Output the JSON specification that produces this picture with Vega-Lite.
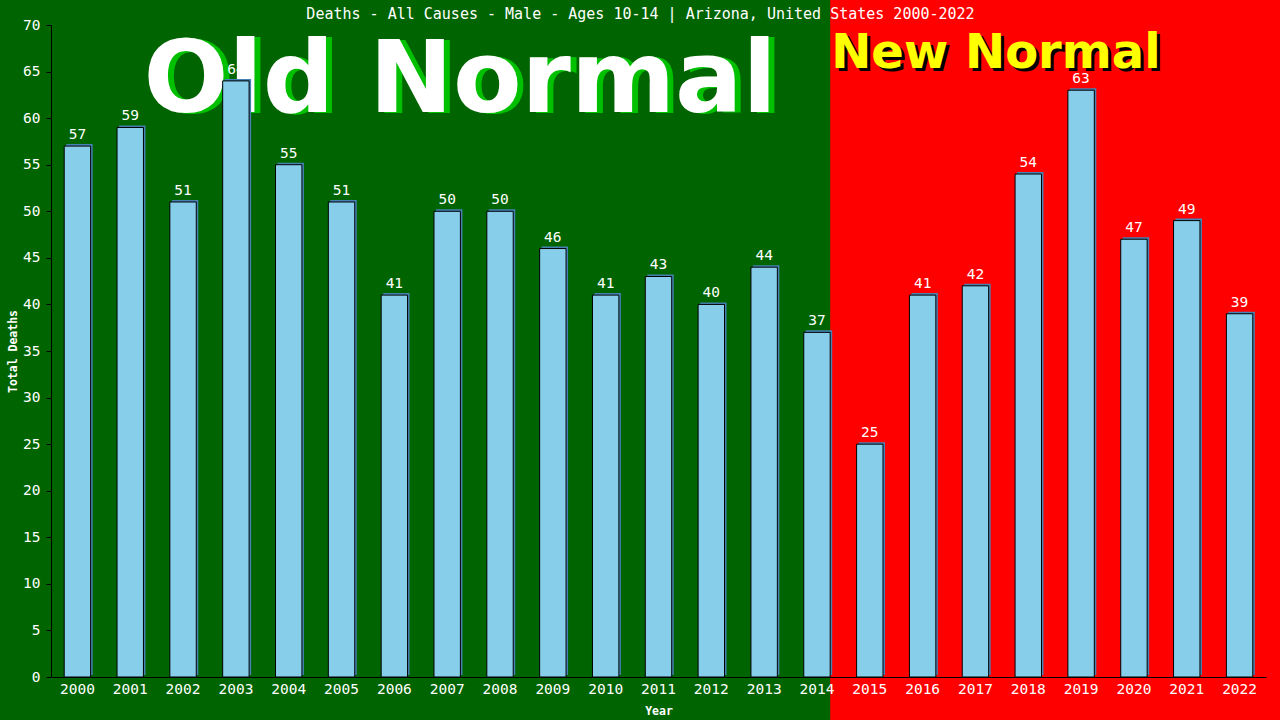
{
  "$schema": "https://vega.github.io/schema/vega-lite/v6.json",
  "width": 1215,
  "height": 652,
  "autosize": "none",
  "padding": {"left": 51, "top": 25, "right": 14, "bottom": 43},
  "background": "#006400",
  "config": {"view": {"stroke": null}},
  "title": {
    "text": "Deaths - All Causes - Male - Ages 10-14 | Arizona, United States 2000-2022",
    "color": "white",
    "font": "DejaVu Sans Mono",
    "fontSize": 15,
    "fontWeight": "normal",
    "frame": "group",
    "anchor": "middle",
    "baseline": "alphabetic",
    "offset": 0,
    "dx": -18,
    "dy": 37
  },
  "datasets": {
    "deaths": [
      {"year": "2000", "deaths": 57},
      {"year": "2001", "deaths": 59},
      {"year": "2002", "deaths": 51},
      {"year": "2003", "deaths": 64},
      {"year": "2004", "deaths": 55},
      {"year": "2005", "deaths": 51},
      {"year": "2006", "deaths": 41},
      {"year": "2007", "deaths": 50},
      {"year": "2008", "deaths": 50},
      {"year": "2009", "deaths": 46},
      {"year": "2010", "deaths": 41},
      {"year": "2011", "deaths": 43},
      {"year": "2012", "deaths": 40},
      {"year": "2013", "deaths": 44},
      {"year": "2014", "deaths": 37},
      {"year": "2015", "deaths": 25},
      {"year": "2016", "deaths": 41},
      {"year": "2017", "deaths": 42},
      {"year": "2018", "deaths": 54},
      {"year": "2019", "deaths": 63},
      {"year": "2020", "deaths": 47},
      {"year": "2021", "deaths": 49},
      {"year": "2022", "deaths": 39}
    ],
    "oldlabel": [{"year": "2007", "v": 60.7, "label": "Old Normal"}],
    "newlabel": [{"year": "2014", "v": 65.4, "label": "New Normal"}],
    "region": [{"year": "2014", "top": 73, "bottom": -10}]
  },
  "resolve": {"axis": {"y": "independent"}},
  "layer": [
    {
      "data": {"name": "region"},
      "mark": {"type": "rect", "color": "#FF0000"},
      "encoding": {
        "x": {"field": "year", "type": "ordinal", "bandPosition": 1},
        "x2": {"value": {"expr": "width + 20"}},
        "y": {"field": "top", "type": "quantitative", "axis": null},
        "y2": {"field": "bottom"}
      }
    },
    {
      "data": {"name": "oldlabel"},
      "mark": {"type": "text", "font": "DejaVu Sans", "fontWeight": "bold", "fontSize": 100, "color": "#00C000", "align": "center", "baseline": "alphabetic", "dx": 19, "dy": 1},
      "encoding": {
        "x": {"field": "year", "type": "ordinal"},
        "y": {"field": "v", "type": "quantitative", "axis": null},
        "text": {"field": "label"}
      }
    },
    {
      "data": {"name": "oldlabel"},
      "mark": {"type": "text", "font": "DejaVu Sans", "fontWeight": "bold", "fontSize": 100, "color": "white", "align": "center", "baseline": "alphabetic", "dx": 13},
      "encoding": {
        "x": {"field": "year", "type": "ordinal"},
        "y": {"field": "v", "type": "quantitative", "axis": null},
        "text": {"field": "label"}
      }
    },
    {
      "data": {"name": "newlabel"},
      "mark": {"type": "text", "font": "DejaVu Sans", "fontWeight": "bold", "fontSize": 48, "color": "black", "align": "left", "baseline": "alphabetic", "dx": 4, "dy": 3},
      "encoding": {
        "x": {"field": "year", "type": "ordinal", "bandPosition": 1},
        "y": {"field": "v", "type": "quantitative", "axis": null},
        "text": {"field": "label"}
      }
    },
    {
      "data": {"name": "newlabel"},
      "mark": {"type": "text", "font": "DejaVu Sans", "fontWeight": "bold", "fontSize": 48, "color": "#FFFF00", "align": "left", "baseline": "alphabetic", "dx": 1},
      "encoding": {
        "x": {"field": "year", "type": "ordinal", "bandPosition": 1},
        "y": {"field": "v", "type": "quantitative", "axis": null},
        "text": {"field": "label"}
      }
    },
    {
      "data": {"name": "deaths"},
      "mark": {"type": "bar", "color": "#4682B4", "xOffset": 2, "yOffset": -2},
      "encoding": {
        "x": {"field": "year", "type": "ordinal"},
        "y": {
          "field": "deaths",
          "type": "quantitative",
          "axis": {"orient": "right", "labels": false, "ticks": false, "title": null, "grid": false, "domainColor": "black", "domainWidth": 1}
        }
      }
    },
    {
      "data": {"name": "deaths"},
      "mark": {"type": "bar", "color": "#87CEEB", "stroke": "black", "strokeWidth": 1},
      "encoding": {
        "x": {
          "field": "year",
          "type": "ordinal",
          "scale": {"paddingInner": 0.5, "paddingOuter": 0.25},
          "axis": {
            "title": "Year",
            "bandPosition": 0.5,
            "labelAngle": 0,
            "labelAlign": "center",
            "labelColor": "white",
            "labelFont": "DejaVu Sans Mono",
            "labelFontSize": 14.5,
            "labelPadding": 12,
            "ticks": false,
            "domainColor": "black",
            "domainWidth": 1,
            "titleColor": "white",
            "titleFont": "DejaVu Sans Mono",
            "titleFontSize": 11.5,
            "titleFontWeight": "bold",
            "titlePadding": 10
          }
        },
        "y": {
          "field": "deaths",
          "type": "quantitative",
          "scale": {"domain": [0, 70], "nice": false},
          "axis": {
            "orient": "left",
            "title": "Total Deaths",
            "values": [0, 5, 10, 15, 20, 25, 30, 35, 40, 45, 50, 55, 60, 65, 70],
            "grid": false,
            "labelColor": "white",
            "labelFont": "DejaVu Sans Mono",
            "labelFontSize": 14.5,
            "labelPadding": 6,
            "tickColor": "black",
            "tickSize": 5,
            "domainColor": "black",
            "domainWidth": 1,
            "titleColor": "white",
            "titleFont": "DejaVu Sans Mono",
            "titleFontSize": 11.5,
            "titleFontWeight": "bold",
            "titleX": -38,
            "titleY": 326,
            "titleAngle": 270,
            "titleAlign": "center",
            "titleBaseline": "middle"
          }
        }
      }
    },
    {
      "data": {"name": "deaths"},
      "mark": {"type": "text", "color": "white", "font": "DejaVu Sans Mono", "fontSize": 14.5, "baseline": "alphabetic", "dy": -7},
      "encoding": {
        "x": {"field": "year", "type": "ordinal"},
        "y": {"field": "deaths", "type": "quantitative", "axis": null},
        "text": {"field": "deaths"}
      }
    }
  ]
}
